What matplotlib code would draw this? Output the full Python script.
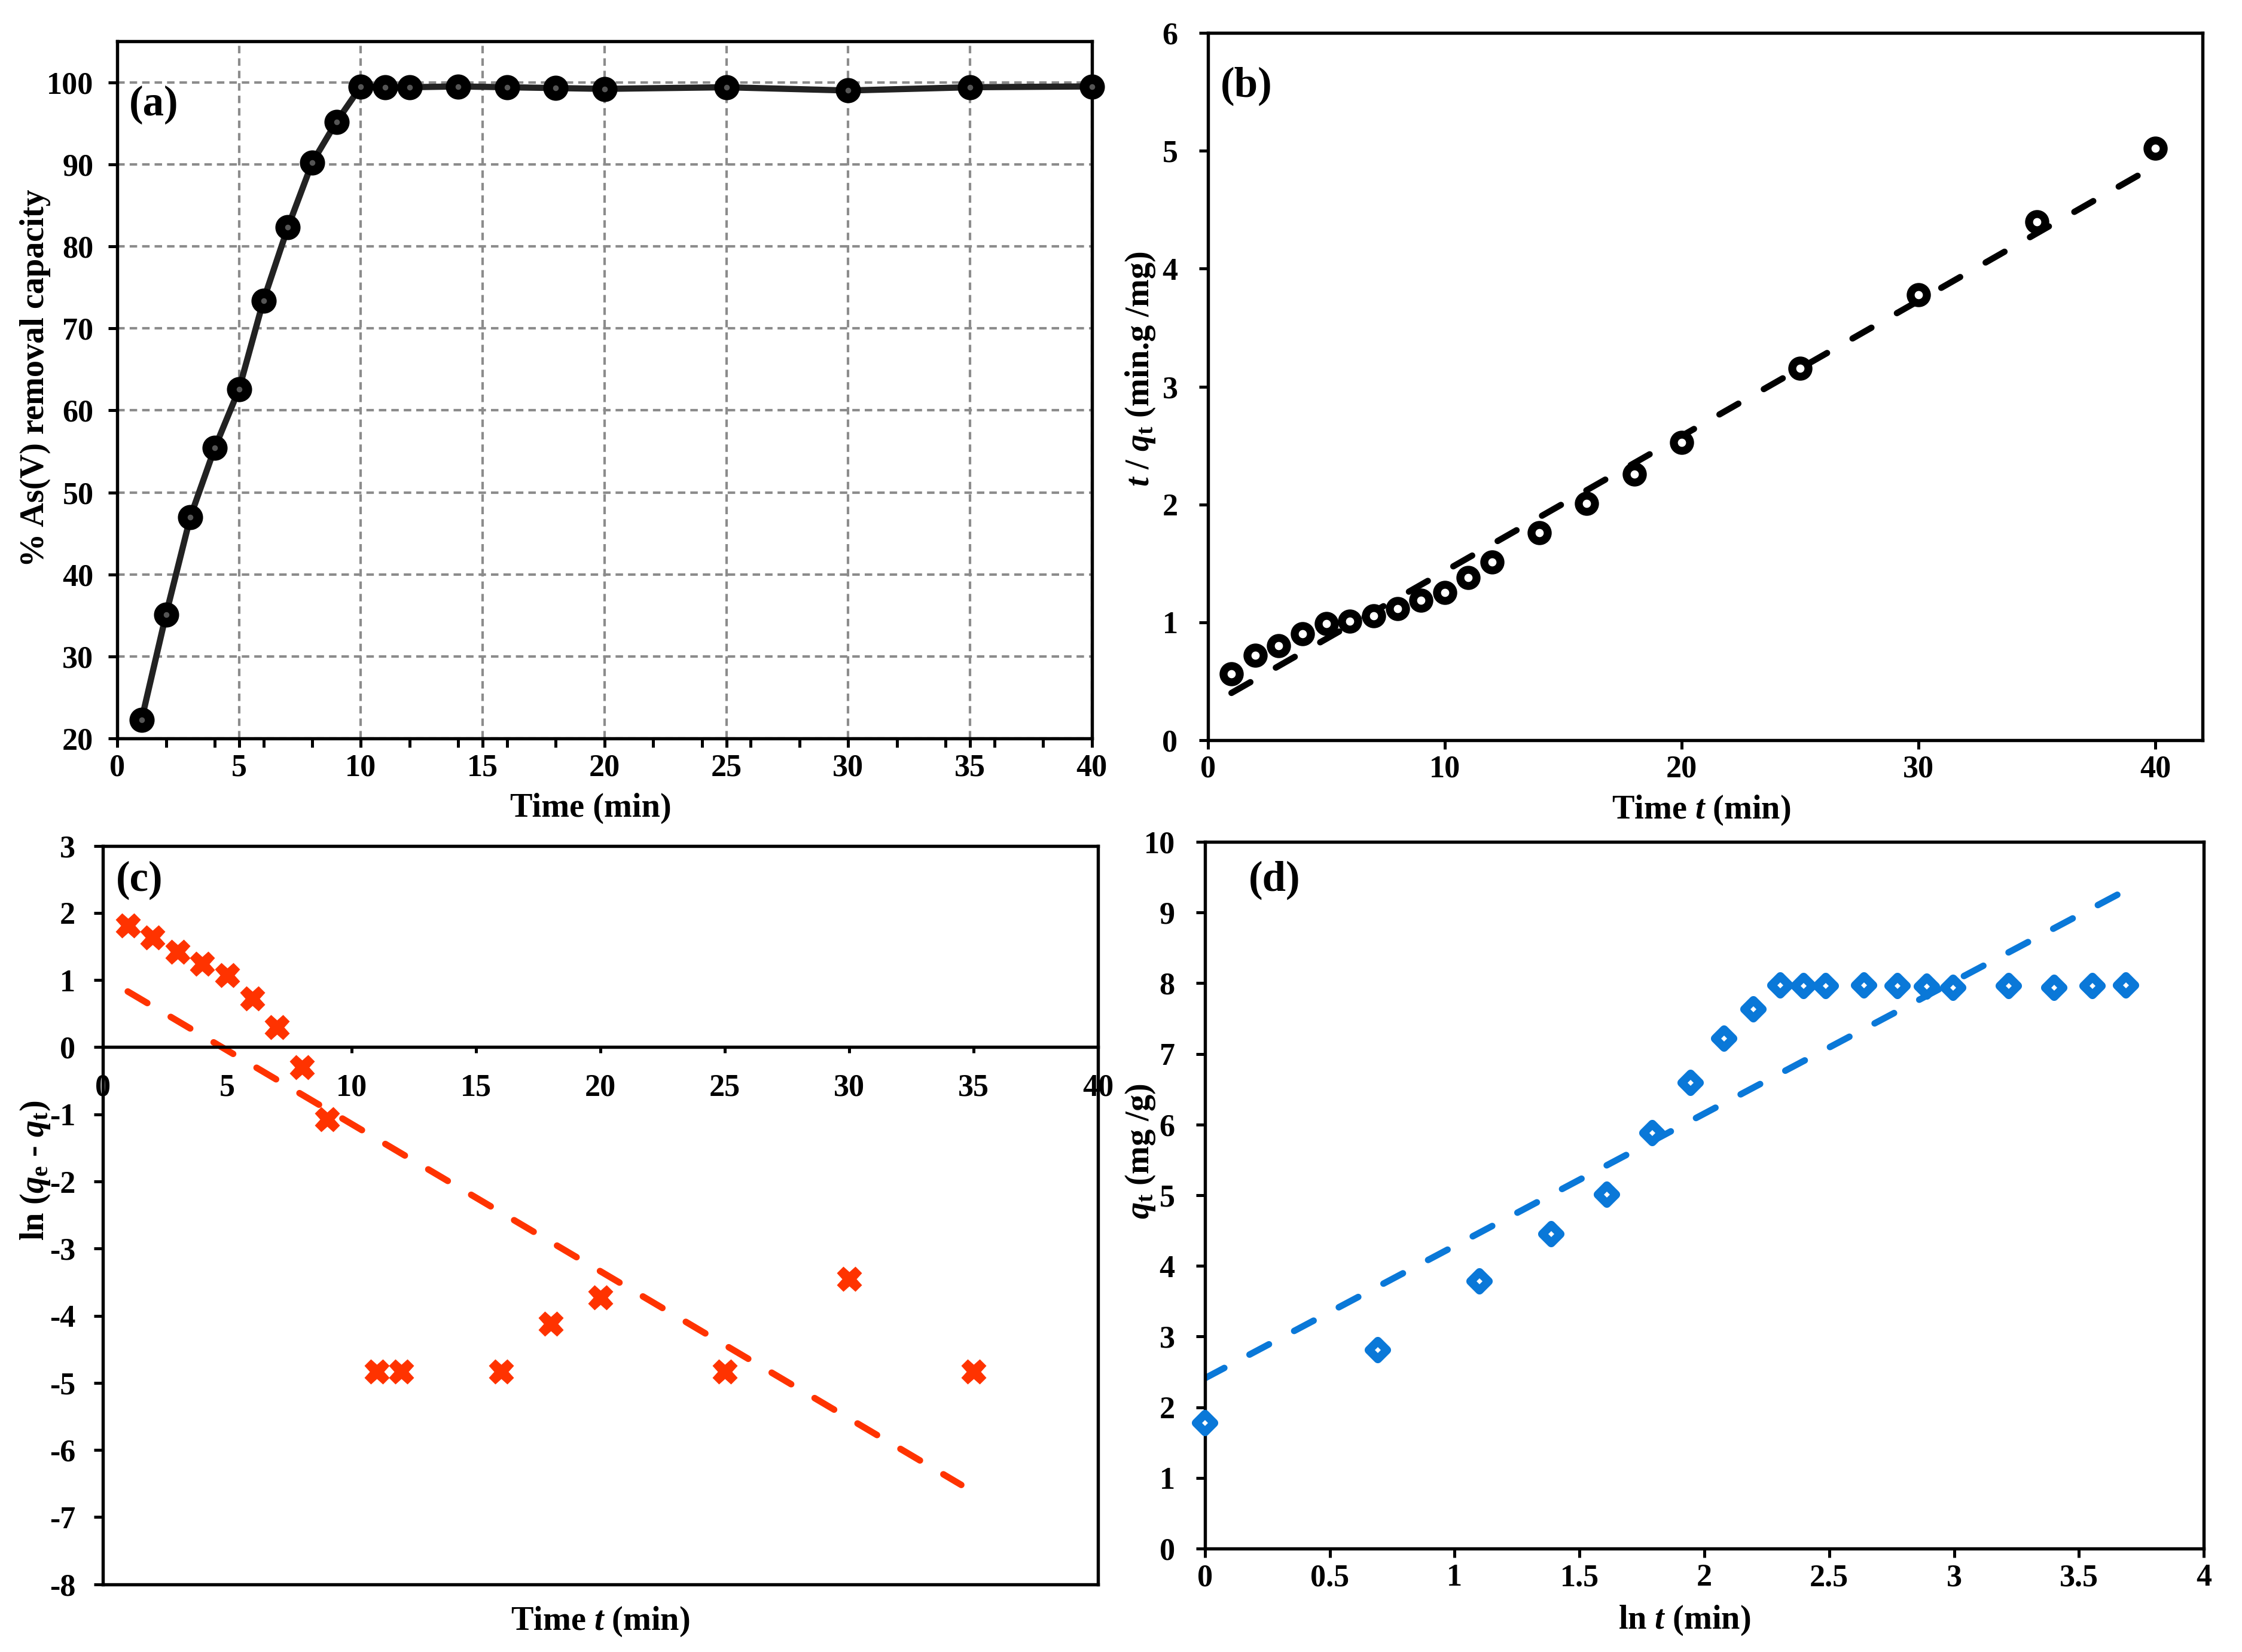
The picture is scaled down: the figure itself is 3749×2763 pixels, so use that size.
import matplotlib
matplotlib.use("Agg")
import matplotlib.pyplot as plt
from matplotlib.markers import MarkerStyle
from matplotlib.ticker import FixedLocator, FormatStrFormatter, MultipleLocator

plt.rcParams['font.family'] = ['Liberation Serif', 'DejaVu Serif']
plt.rcParams['font.weight'] = 'bold'
plt.rcParams['axes.labelweight'] = 'bold'
plt.rcParams['mathtext.fontset'] = 'custom'
plt.rcParams['mathtext.rm'] = 'Liberation Serif:bold'
plt.rcParams['mathtext.it'] = 'Liberation Serif:italic:bold'
plt.rcParams['mathtext.bf'] = 'Liberation Serif:bold'
plt.rcParams['axes.unicode_minus'] = False
plt.rcParams['axes.linewidth'] = 1.3

# ---------------- data ----------------
time_min = [1, 2, 3, 4, 5, 6, 7, 8, 9, 10, 11, 12, 14, 16, 18, 20, 25, 30, 35, 40]
removal_pct = [22.3, 35.1, 47.0, 55.4, 62.6, 73.4, 82.3, 90.2, 95.2, 99.5,
               99.4, 99.4, 99.5, 99.4, 99.3, 99.2, 99.4, 99.0, 99.4, 99.5]

t_over_qt = [0.56, 0.72, 0.80, 0.90, 0.99, 1.01, 1.056, 1.115, 1.187, 1.25,
             1.377, 1.51, 1.758, 2.007, 2.256, 2.524, 3.154, 3.78, 4.40, 5.02]
pso_fit_x = [1, 40]
pso_fit_y = [0.40, 4.875]

pfo_time = [1, 2, 3, 4, 5, 6, 7, 8, 9, 11, 12, 16, 18, 20, 25, 30, 35]
ln_qe_qt = [1.81, 1.63, 1.42, 1.24, 1.07, 0.73, 0.30, -0.30, -1.07, -4.83,
            -4.83, -4.83, -4.12, -3.73, -4.83, -3.45, -4.83]
pfo_fit_x = [1, 34.5]
pfo_fit_y = [0.83, -6.52]

ln_t = [0.000, 0.693, 1.099, 1.386, 1.609, 1.792, 1.946, 2.079, 2.197, 2.303,
        2.398, 2.485, 2.639, 2.773, 2.890, 2.996, 3.219, 3.401, 3.555, 3.689]
qt = [1.78, 2.81, 3.78, 4.45, 5.01, 5.88, 6.59, 7.22, 7.63, 7.97,
      7.96, 7.96, 7.97, 7.96, 7.955, 7.94, 7.96, 7.94, 7.96, 7.97]
elo_fit_x = [0.0, 3.69]
elo_fit_y = [2.41, 9.32]

# ---------------- figure ----------------
W, H = 3749, 2763
fig = plt.figure(figsize=(W / 300, H / 300), dpi=300)

TICK_FS = 12.5
LABEL_FS = 13.5
PANEL_FS = 17

def frame(l, r, b, t):
    return fig.add_axes([l, b, r - l, t - b])

axa = frame(0.0523, 0.487, 0.553, 0.975)
axb = frame(0.5387, 0.9825, 0.552, 0.980)
axc = frame(0.0459, 0.4898, 0.041, 0.488)
axd = frame(0.5374, 0.983, 0.0626, 0.4904)

for ax in (axa, axb, axc, axd):
    ax.tick_params(axis='both', which='both', direction='out', labelsize=TICK_FS,
                   width=1.2)
    ax.tick_params(axis='both', which='major', length=3.5)
    ax.tick_params(axis='x', pad=2.5)
    ax.tick_params(axis='y', pad=6)

# ---- (a)
axa.plot(time_min, removal_pct, color='#222222', lw=2.5, marker='o', ms=6.2,
         mfc='#555555', mec='black', mew=3.9, zorder=3, clip_on=False)
axa.set_xlim(0, 40)
axa.set_ylim(20, 105)
axa.xaxis.set_major_locator(MultipleLocator(5))
axa.xaxis.set_minor_locator(FixedLocator([2, 4, 6, 8, 12, 14, 16, 18, 22, 24, 26, 28,
                                          32, 34, 36, 38]))
axa.tick_params(axis='x', which='minor', length=3.5)
axa.yaxis.set_major_locator(FixedLocator([20, 30, 40, 50, 60, 70, 80, 90, 100]))
axa.grid(True, which='major', color='#8c8c8c', lw=1.0, linestyle=(0, (3, 2)))
axa.set_axisbelow(True)
axa.set_xlabel('Time (min)', fontsize=LABEL_FS)
axa.set_ylabel('% As(V) removal capacity', fontsize=LABEL_FS)
axa.xaxis.set_label_coords(0.486, -0.078)
axa.yaxis.set_label_coords(-0.068, 0.517)
axa.text(0.012, 0.909, '(a)', transform=axa.transAxes, fontsize=PANEL_FS,
         fontweight='bold', ha='left', va='center')

# ---- (b)
axb.plot(pso_fit_x, pso_fit_y, color='black', lw=2.5, linestyle=(0, (3.5, 4.7)),
         dash_capstyle='round', zorder=2)
axb.plot(time_min, t_over_qt, linestyle='none', marker='o', ms=6.5, mfc='white',
         mec='black', mew=3.2, zorder=3)
axb.set_xlim(0, 42)
axb.set_ylim(0, 6)
axb.xaxis.set_major_locator(FixedLocator([0, 10, 20, 30, 40]))
axb.yaxis.set_major_locator(MultipleLocator(1))
axb.tick_params(axis='y', pad=8.5)
axb.set_xlabel(r'Time $t$ (min)', fontsize=LABEL_FS)
axb.set_ylabel(r'$t$ / $q_{\mathrm{t}}$ (min.g /mg)', fontsize=LABEL_FS)
axb.xaxis.set_label_coords(0.496, -0.076)
axb.yaxis.set_label_coords(-0.051, 0.525)
axb.text(0.013, 0.925, '(b)', transform=axb.transAxes, fontsize=PANEL_FS,
         fontweight='bold', ha='left', va='center')

# ---- (c)
red = '#ff3300'
axc.plot(pfo_fit_x, pfo_fit_y, color=red, lw=2.6, linestyle=(0, (3.5, 4.2)),
         dash_capstyle='round', zorder=2)
axc.plot(pfo_time, ln_qe_qt, linestyle='none', marker='X', ms=9.3, color=red,
         mec=red, mew=0.7, zorder=3)
axc.set_xlim(0, 40)
axc.set_ylim(-8, 3)
axc.spines['bottom'].set_position(('data', 0))
axc.plot([0, 1], [0, 0], transform=axc.transAxes, color='black', lw=1.3,
         clip_on=False, zorder=5)
axc.xaxis.set_major_locator(MultipleLocator(5))
axc.yaxis.set_major_locator(MultipleLocator(1))
axc.tick_params(axis='x', length=2.5, pad=8)
axc.tick_params(axis='y', pad=7.5)
axc.set_xlabel(r'Time $t$ (min)', fontsize=LABEL_FS)
axc.set_ylabel(r'ln ($q_{\mathrm{e}}$ - $q_{\mathrm{t}}$)', fontsize=LABEL_FS)
axc.xaxis.set_label_coords(0.50, -0.028)
axc.yaxis.set_label_coords(-0.051, 0.56)
axc.text(0.013, 0.953, '(c)', transform=axc.transAxes, fontsize=PANEL_FS,
         fontweight='bold', ha='left', va='center')

# ---- (d)
blue = '#0a78d8'
axd.plot(elo_fit_x, elo_fit_y, color=blue, lw=2.6, linestyle=(0, (3.4, 4.4)),
         dash_capstyle='round', zorder=2)
axd.plot(ln_t, qt, linestyle='none', marker=MarkerStyle('D', joinstyle='round'),
         ms=5.0, mfc='white', mec=blue, mew=3.4, zorder=3, clip_on=False)
axd.set_xlim(0, 4)
axd.set_ylim(0, 10)
axd.xaxis.set_major_locator(MultipleLocator(0.5))
axd.xaxis.set_major_formatter(FormatStrFormatter('%g'))
axd.yaxis.set_major_locator(MultipleLocator(1))
axd.tick_params(axis='y', pad=8.5)
axd.set_xlabel(r'ln $t$ (min)', fontsize=LABEL_FS)
axd.set_ylabel(r'$q_{\mathrm{t}}$ (mg /g)', fontsize=LABEL_FS)
axd.xaxis.set_label_coords(0.48, -0.078)
axd.yaxis.set_label_coords(-0.048, 0.562)
axd.text(0.044, 0.946, '(d)', transform=axd.transAxes, fontsize=PANEL_FS,
         fontweight='bold', ha='left', va='center')

for ax in (axa, axb, axc, axd):
    for lab in ax.get_xticklabels() + ax.get_yticklabels():
        lab.set_fontweight('bold')

fig.savefig('out.png', dpi=300)
